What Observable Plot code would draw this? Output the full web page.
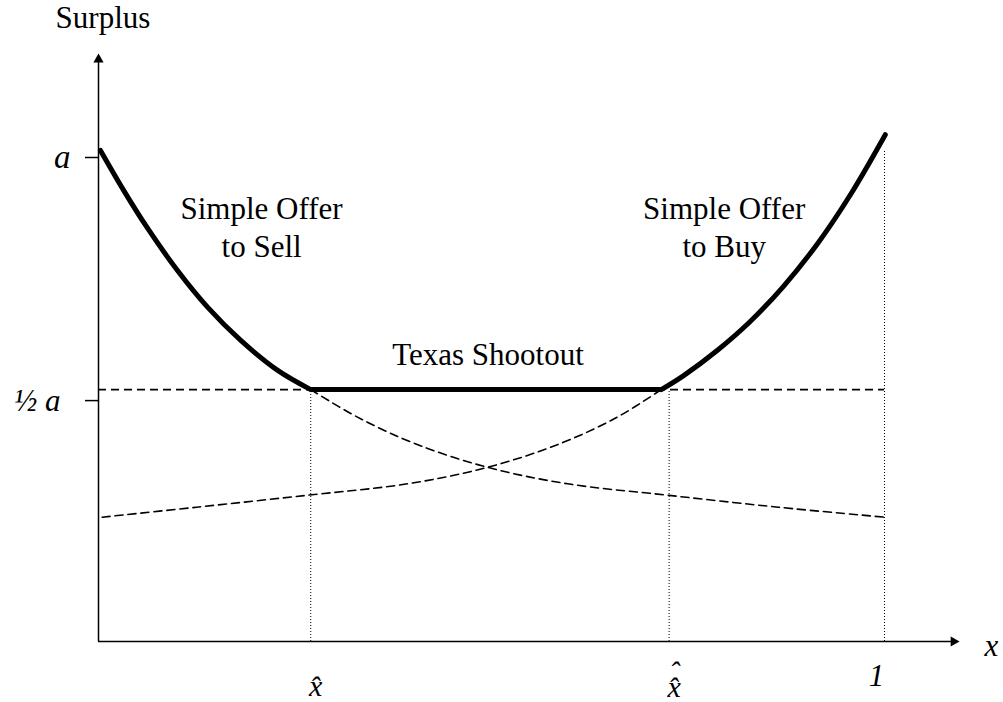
<!DOCTYPE html>
<html><head><meta charset="utf-8">
<script src="https://cdn.jsdelivr.net/npm/d3@7"></script>
<script src="https://cdn.jsdelivr.net/npm/@observablehq/plot@0.6"></script>
<style>body{margin:0;background:#fff}#chart svg{display:block}</style>
</head><body><div id="chart"></div>
<script>
// Solid envelope: Simple Offer to Sell / Texas Shootout / Simple Offer to Buy
const sellX = [0.0025, 0.032, 0.062, 0.1005, 0.139, 0.181, 0.228, 0.270];
const sellY = [0.998, 0.917, 0.841, 0.754, 0.679, 0.612, 0.551, 0.512];
const flatX = [0.270, 0.716];
const flatY = [0.512, 0.512];
const buyX = [0.716, 0.744, 0.7875, 0.8295, 0.8715, 0.915, 0.957, 1.001];
const buyY = [0.512, 0.540, 0.592, 0.651, 0.722, 0.809, 0.909, 1.030];
// Dashed continuations
const sellDashX = [0.270, 0.3295, 0.403, 0.495, 0.597, 0.726, 0.8645, 1.0];
const sellDashY = [0.512, 0.456, 0.402, 0.354, 0.3205, 0.297, 0.273, 0.2527];
const buyDashX = [0.0047, 0.125, 0.264, 0.393, 0.495, 0.587, 0.660, 0.716];
const buyDashY = [0.2527, 0.273, 0.297, 0.3205, 0.354, 0.402, 0.456, 0.512];
// Half-surplus level
const halfLevel = [0.512];
const halfX1 = 0, halfX2 = 1;
// Dotted drop lines
const dropX = [0.270, 0.726, 1.0];
const dropTop = [0.512, 0.512, 1.0];
// Axis arrows
const yArrowTop = 1.183;
const xArrowEnd = 1.088;
// Tick labels
const yTickA = [1.0], yTickALabel = ["a"];
const yTickHalf = [0.512], yTickHalfLabel = ["½ a"];
const xTickHat = [0.270], xTickHatLabel = ["x\u0302"];
const xTickHat2 = [0.726], xTickHat2Label = ["\u02C6\nx\u0302"];
const xTickOne = [1.0], xTickOneLabel = ["1"];
// Annotations
const noteText = ["Simple Offer\nto Sell", "Texas Shootout", "Simple Offer\nto Buy"];
const noteX = [0.2075, 0.4955, 0.796];
const noteY = [0.7825, 0.561, 0.7825];
const yTitle = ["Surplus"], yTitleX = [0.0057], yTitleY = [1.246];
const xTitle = ["x"], xTitleX = [1.136], xTitleY = [-0.0285];

const pts = (xs, ys) => xs.map((x, i) => ({x, y: ys[i]}));
const fmt = (vals, labs) => v => labs[vals.indexOf(v)];
const serif = "'Liberation Serif','Times New Roman',serif";
const solid = {x: "x", y: "y", stroke: "black", strokeWidth: 5, strokeLinecap: "round"};

const chart = Plot.plot({
  width: 1003, height: 702,
  marginLeft: 98, marginRight: 119, marginTop: 149, marginBottom: 61,
  x: {domain: [0, 1]},
  y: {domain: [0, 1]},
  style: {fontFamily: serif, fontSize: "31px", background: "white", color: "black", overflow: "visible"},
  marks: [
    // dotted drop lines
    Plot.ruleX(pts(dropX, dropTop), {x: "x", y1: 0, y2: "y", stroke: "black", strokeWidth: 1, strokeDasharray: "1,2"}),
    // dashed half level
    Plot.ruleY(halfLevel, {x1: halfX1, x2: halfX2, stroke: "black", strokeWidth: 1.6, strokeDasharray: "8,5"}),
    // dashed curves
    Plot.line(pts(sellDashX, sellDashY), {x: "x", y: "y", curve: "catmull-rom", stroke: "black", strokeWidth: 1.6, strokeDasharray: "8,5"}),
    Plot.line(pts(buyDashX, buyDashY), {x: "x", y: "y", curve: "catmull-rom", stroke: "black", strokeWidth: 1.6, strokeDasharray: "8,5"}),
    // axes lines with arrowheads
    Plot.ruleX([0], {y1: 0, y2: yArrowTop, stroke: "black", strokeWidth: 1.5}),
    Plot.ruleY([0], {x1: 0, x2: xArrowEnd, stroke: "black", strokeWidth: 1.5}),
    Plot.dot([{x: 0, y: yArrowTop}], {x: "x", y: "y", symbol: "triangle", r: 3.8, fill: "black", stroke: null}),
    Plot.dot([{x: xArrowEnd, y: 0}], {x: "x", y: "y", symbol: "triangle", r: 3.8, rotate: 90, fill: "black", stroke: null}),
    // solid envelope
    Plot.line(pts(sellX, sellY), {...solid, curve: "catmull-rom"}),
    Plot.line(pts(flatX, flatY), {...solid, strokeLinecap: "butt"}),
    Plot.line(pts(buyX, buyY), {...solid, curve: "catmull-rom"}),
    // y axis ticks and labels
    Plot.axisY({ticks: yTickA, tickFormat: fmt(yTickA, yTickALabel), tickSize: 13, tickPadding: 15, dy: 8, label: null,
      fontSize: 33, fontStyle: "italic", strokeWidth: 1.5}),
    Plot.axisY({ticks: yTickHalf, tickFormat: fmt(yTickHalf, yTickHalfLabel), tickSize: 13, tickPadding: 25, dy: 11, label: null,
      fontSize: 31, fontStyle: "italic", strokeWidth: 1.5}),
    // x axis labels
    Plot.axisX({ticks: xTickHat, tickFormat: fmt(xTickHat, xTickHatLabel), tickSize: 0, tickPadding: 33, dx: 5, label: null,
      fontSize: 30, fontStyle: "italic"}),
    Plot.axisX({ticks: xTickHat2, tickFormat: fmt(xTickHat2, xTickHat2Label), tickSize: 0, tickPadding: 30, dx: 5, label: null,
      lineHeight: 0.5, fontSize: 30, fontStyle: "italic"}),
    Plot.axisX({ticks: xTickOne, tickFormat: fmt(xTickOne, xTickOneLabel), tickSize: 0, tickPadding: 22, dx: -8, label: null,
      fontSize: 31, fontStyle: "italic"}),
    // annotations
    Plot.text(noteText.map((t, i) => ({t, x: noteX[i], y: noteY[i]})),
      {x: "x", y: "y", text: "t", lineAnchor: "bottom", lineHeight: 1.2, fontSize: 31, fill: "black"}),
    Plot.text(yTitle.map((t, i) => ({t, x: yTitleX[i], y: yTitleY[i]})),
      {x: "x", y: "y", text: "t", lineAnchor: "bottom", fontSize: 31, fill: "black"}),
    Plot.text(xTitle.map((t, i) => ({t, x: xTitleX[i], y: xTitleY[i]})),
      {x: "x", y: "y", text: "t", lineAnchor: "bottom", fontSize: 31, fontStyle: "italic", fill: "black"})
  ]
});
document.getElementById("chart").append(chart);
</script>
</body></html>
